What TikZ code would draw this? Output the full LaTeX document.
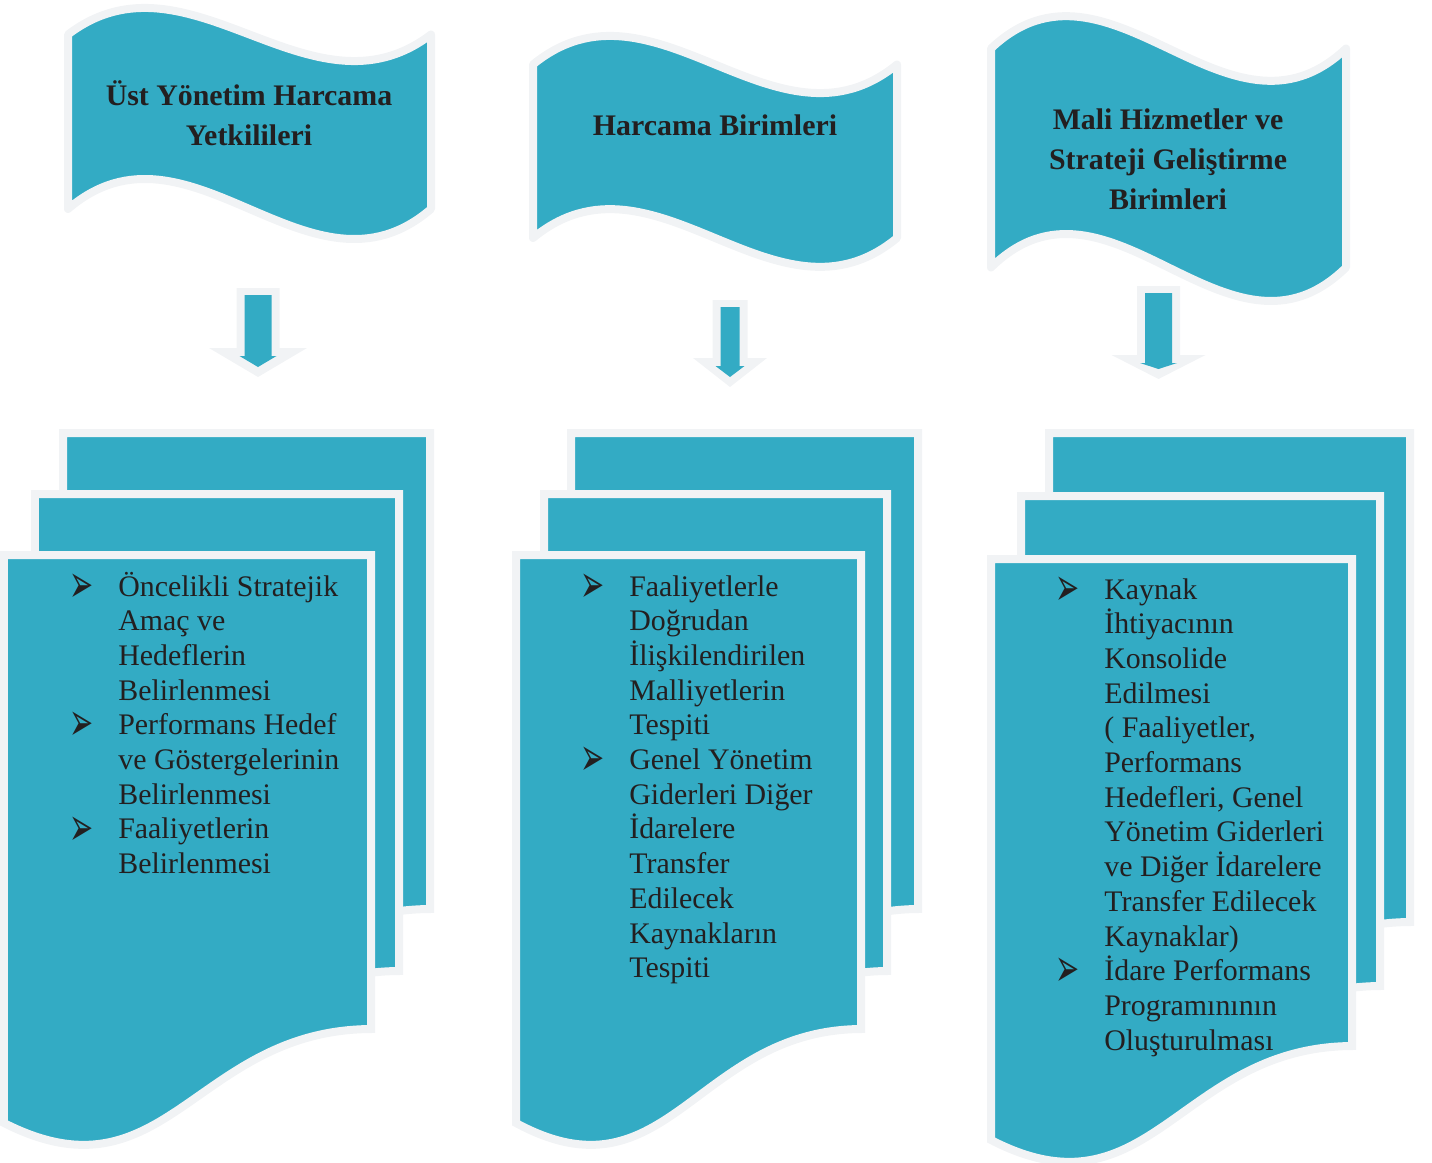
\documentclass[tikz,border=0pt]{standalone}
\usepackage{fontspec}
\usepackage{graphicx}
\setmainfont{Liberation Serif}
\newfontfamily\bulletfont{DejaVu Sans}

\definecolor{tapeteal}{RGB}{51,171,196}
\definecolor{rimgray}{RGB}{241,243,245}
\definecolor{inkdark}{RGB}{35,31,32}

% stacked text lines, first baseline is the box baseline
\newcommand{\textlines}[1]{\vtop{\halign{##\hfil\cr#1\crcr}}}
\newcommand{\ctextlines}[1]{\vtop{\halign{\hfil##\hfil\cr#1\crcr}}}
\newcommand{\itm}{\llap{\raisebox{-3.5pt}{\scalebox{0.78}[1.45]{\bulletfont\fontsize{21}{21}\selectfont ➢}}\hspace{14.2pt}}}

% wavy banner: left, right, top, bottom, top bend, bottom bend
\newcommand{\tapeshape}[6]{%
  \path [tape] (#1,#3) .. controls ({#1+(#2-#1)/3},{#3-#5}) and ({#1+2*(#2-#1)/3},{#3+#5}) .. (#2,#3)
    -- (#2,#4) .. controls ({#1+2*(#2-#1)/3},{#4+#6}) and ({#1+(#2-#1)/3},{#4-#6}) .. (#1,#4) -- cycle;}
% one sheet: left, top, right, bottom at right
\newcommand{\docpage}[4]{%
  \path [page] ({#1-4},{#2-4}) -- ({#3+4},{#2-4}) -- ({#3+4},{#4+4})
    .. controls ({#3+4-0.49*(#3-#1)},{#4+5}) and ({#1-4+0.45*(#3-#1)},{#4+180}) .. ({#1-4},{#4+98}) -- cycle;}
% block arrow: centre, top, head base, tip, half shaft, half head
\newcommand{\downblock}[6]{%
  \path [arrowrim] ({#1-#5},#2) -- ({#1+#5},#2) -- ({#1+#5},#3) -- ({#1+#6},#3) -- (#1,#4)
    -- ({#1-#6},#3) -- ({#1-#5},#3) -- cycle;
  \path [arrowcore] ({#1-#5+8},{#2+7}) -- ({#1+#5-8},{#2+7}) -- ({#1+#5-8},{#3+8}) -- ({#1+#5-3},{#3+8})
    -- (#1,{#4-10}) -- ({#1-#5+3},{#3+8}) -- ({#1-#5+8},{#3+8}) -- cycle;}

\begin{document}
\begin{tikzpicture}[x=0.02cm,y=-0.02cm]
        % Define styles
        \tikzstyle{tape} = [fill=tapeteal, draw=rimgray, line width=0.16cm, line join=round]
        \tikzstyle{page} = [fill=tapeteal, draw=rimgray, line width=0.16cm]
        \tikzstyle{arrowrim} = [fill=rimgray]
        \tikzstyle{arrowcore} = [fill=tapeteal]
        \tikzstyle{headtext} = [inner sep=0, text=inkdark, font=\bfseries\fontsize{17}{22.7}\selectfont]
        \tikzstyle{listtext} = [inner sep=0, text=inkdark, font=\fontsize{17}{19.75}\selectfont]

        \useasboundingbox (0,0) rectangle (1432,1162);

        % Banners
        \tapeshape{68}{431}{34.5}{209}{92}{104}
        \tapeshape{533}{897}{64.5}{238}{99}{100}
        \tapeshape{991}{1346}{48.5}{267.5}{112}{116}

        % Arrows
        \downblock{258}{288}{348}{377}{21.5}{49}
        \downblock{730}{300}{358}{387}{17.5}{37}
        \downblock{1158.5}{286}{355}{379}{21.5}{47}

        % Sheets
        \docpage{67}{437}{426}{905}
        \docpage{39}{498}{395}{967}
        \docpage{8}{559}{367}{1025}

        \docpage{575}{437}{914}{905}
        \docpage{548}{498}{883}{967}
        \docpage{520}{559}{857}{1025}

        \docpage{1053}{437}{1406}{918}
        \docpage{1025}{500}{1376}{982}
        \docpage{995}{563}{1348}{1042}

        % Nodes
        \node [headtext, anchor=base] (ust) at (249,106) {\ctextlines{Üst Yönetim Harcama\cr Yetkilileri}};
        \node [headtext, anchor=base] (harcama) at (715,136) {\ctextlines{Harcama Birimleri}};
        \node [headtext, anchor=base] (mali) at (1168,130) {\ctextlines{Mali Hizmetler ve\cr Strateji Geliştirme\cr Birimleri}};

        \node [listtext, anchor=base west] (list1) at (118,596) {\textlines{\itm Öncelikli Stratejik\cr Amaç ve\cr Hedeflerin\cr Belirlenmesi\cr
            \itm Performans Hedef\cr ve Göstergelerinin\cr Belirlenmesi\cr \itm Faaliyetlerin\cr Belirlenmesi}};
        \node [listtext, anchor=base west] (list2) at (629,596) {\textlines{\itm Faaliyetlerle\cr Doğrudan\cr İlişkilendirilen\cr Malliyetlerin\cr Tespiti\cr
            \itm Genel Yönetim\cr Giderleri Diğer\cr İdarelere\cr Transfer\cr Edilecek\cr Kaynakların\cr Tespiti}};
        \node [listtext, anchor=base west] (list3) at (1104,599) {\textlines{\itm Kaynak\cr İhtiyacının\cr Konsolide\cr Edilmesi\cr ( Faaliyetler,\cr Performans\cr
            Hedefleri, Genel\cr Yönetim Giderleri\cr ve Diğer İdarelere\cr Transfer Edilecek\cr Kaynaklar)\cr
            \itm İdare Performans\cr Programınının\cr Oluşturulması}};

\end{tikzpicture}
\end{document}
